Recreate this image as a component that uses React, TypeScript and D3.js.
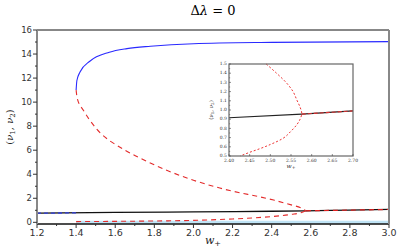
import * as d3 from "d3";

// main plot, values
const xTicks = [1.2, 1.4, 1.6, 1.8, 2.0, 2.2, 2.4, 2.6, 2.8, 3.0];
const yTicks = [0, 2, 4, 6, 8, 10, 12, 14, 16];

const blueUpper: [number, number][] = [
  [1.4, 11.0], [1.404, 11.8], [1.42, 12.5], [1.47, 13.4], [1.57, 14.15],
  [1.66, 14.45], [1.78, 14.65], [2.0, 14.86], [2.4, 14.97], [3.0, 15.03],
];
const redUpper: [number, number][] = [
  [1.4, 11.0], [1.406, 10.3], [1.437, 9.33], [1.488, 8.1], [1.65, 6.0],
  [1.72, 5.4], [2.0, 3.5], [2.135, 2.85], [2.41, 1.85], [2.5, 1.45],
  [2.55, 1.2], [2.575, 0.97],
];
const redLower: [number, number][] = [
  [1.4, 0.06], [1.6, 0.08], [1.8, 0.11], [2.0, 0.16], [2.2, 0.28],
  [2.4, 0.48], [2.5, 0.66], [2.55, 0.8], [2.575, 0.97],
];
const blackLine: [number, number][] = [
  [1.2, 0.76], [1.6, 0.82], [2.0, 0.87], [2.4, 0.92], [2.575, 0.96],
  [2.7, 0.99], [3.0, 1.07],
];
const redOnBlack: [number, number][] = [[2.575, 0.96], [2.7, 0.99], [3.0, 1.07]];
const blueOnBlack: [number, number][] = [[1.2, 0.76], [1.4, 0.785]];
const zeroBand: [number, number][] = [[1.4, 0], [3.0, 0]];

// inset
const insetXTicks = [2.4, 2.45, 2.5, 2.55, 2.6, 2.65, 2.7];
const insetYTicks = [0.5, 0.6, 0.7, 0.8, 0.9, 1.0, 1.1, 1.2, 1.3, 1.4, 1.5];
const insetRed: [number, number][] = [
  [2.49, 1.5], [2.515, 1.4], [2.54, 1.29], [2.555, 1.2], [2.564, 1.11],
  [2.572, 1.03], [2.576, 0.964], [2.572, 0.9], [2.564, 0.84], [2.55, 0.77],
  [2.53, 0.69], [2.5, 0.625], [2.475, 0.58], [2.45, 0.54], [2.427, 0.5],
];
const insetBlack: [number, number][] = [[2.4, 0.916], [2.576, 0.955], [2.7, 0.99]];
const insetRedOnBlack: [number, number][] = [[2.576, 0.955], [2.7, 0.99]];

const W = 401;
const H = 250;
const SANS = "'DejaVu Sans', sans-serif";
const SERIF = "'DejaVu Serif', serif";

export default function App() {
  const x = d3.scaleLinear().domain([1.2, 3.0]).range([37, 389]);
  const y = d3.scaleLinear().domain([-0.14, 16]).range([224, 30]);
  // branches are monotone in w, so no overshoot past the fold at w = 1.4
  const line = d3
    .line<[number, number]>()
    .x((d) => x(d[0]))
    .y((d) => y(d[1]))
    .curve(d3.curveMonotoneX);

  const ix = d3.scaleLinear().domain([2.4, 2.7]).range([229, 353]);
  const iy = d3.scaleLinear().domain([0.5, 1.5]).range([156, 64]);
  const iline = d3
    .line<[number, number]>()
    .x((d) => ix(d[0]))
    .y((d) => iy(d[1]))
    .curve(d3.curveMonotoneY);

  const xMinor = d3.range(1.3, 3.0, 0.2);
  const yMinor = d3.range(1, 16, 2);
  const iyMinor = d3.range(0.55, 1.5, 0.1);

  return (
    <svg
      width={W}
      height={H}
      style={{ position: "absolute", left: 0, top: 0, background: "#fff" }}
    >
      <text x={213} y={15} textAnchor="middle" fontFamily={SERIF} fontSize={13}>
        Δ<tspan fontStyle="italic">λ</tspan> = 0
      </text>

      {/* main curves */}
      <path d={line(zeroBand)!} fill="none" stroke="#bfe3f5" strokeWidth={3} />
      <path d={line(blackLine)!} fill="none" stroke="#111" strokeWidth={1.3} />
      <path d={line(blueOnBlack)!} fill="none" stroke="#3340e0" strokeWidth={1.3} strokeDasharray="4,3" />
      <path d={line(redOnBlack)!} fill="none" stroke="#e02020" strokeWidth={1.2} strokeDasharray="5,4" />
      <path d={line(blueUpper)!} fill="none" stroke="#2a2aff" strokeWidth={1.1} />
      <path d={line(redUpper)!} fill="none" stroke="#e32b2b" strokeWidth={1.1} strokeDasharray="5,4" />
      <path d={line(redLower)!} fill="none" stroke="#e32b2b" strokeWidth={1.1} strokeDasharray="5,4" />

      {/* frame */}
      <line x1={37} x2={389} y1={30} y2={30} stroke="#111" strokeWidth={1} />
      <line x1={37} x2={389} y1={224} y2={224} stroke="#111" strokeWidth={1.3} />
      <line x1={37} x2={37} y1={30} y2={224} stroke="#888" strokeWidth={2} />
      <line x1={389} x2={389} y1={30} y2={224} stroke="#888" strokeWidth={2} />

      {xTicks.map((t) => (
        <g key={"x" + t}>
          <line x1={x(t)} x2={x(t)} y1={224} y2={228} stroke="#333" />
          <text x={x(t)} y={236} textAnchor="middle" fontFamily={SANS} fontSize={9.5} fill="#333">
            {t.toFixed(1)}
          </text>
        </g>
      ))}
      {xMinor.map((t) => (
        <line key={"xm" + t} x1={x(t)} x2={x(t)} y1={224} y2={226} stroke="#333" />
      ))}
      {yTicks.map((t) => (
        <g key={"y" + t}>
          <line x1={33} x2={37} y1={y(t)} y2={y(t)} stroke="#333" />
          <text x={32} y={y(t) + 3} textAnchor="end" fontFamily={SANS} fontSize={8.5} fill="#333">
            {t}
          </text>
        </g>
      ))}
      {yMinor.map((t) => (
        <line key={"ym" + t} x1={35} x2={37} y1={y(t)} y2={y(t)} stroke="#333" />
      ))}

      <text x={213} y={244} textAnchor="middle" fontFamily={SERIF} fontSize={11} fill="#222">
        <tspan fontStyle="italic">w</tspan>
        <tspan fontSize={8} dy={2}>+</tspan>
      </text>
      <text
        transform="translate(13,127) rotate(-90)"
        textAnchor="middle"
        fontFamily={SERIF}
        fontSize={10}
        fill="#222"
      >
        (<tspan fontStyle="italic">ν</tspan>
        <tspan fontSize={7} dy={2}>1</tspan>
        <tspan dy={-2}>, </tspan>
        <tspan fontStyle="italic">ν</tspan>
        <tspan fontSize={7} dy={2}>2</tspan>
        <tspan dy={-2}>)</tspan>
      </text>

      {/* inset */}
      <rect x={229} y={64} width={124} height={92} fill="#fff" stroke="none" />
      <path d={iline(insetBlack)!} fill="none" stroke="#222" strokeWidth={1.2} />
      <path d={iline(insetRedOnBlack)!} fill="none" stroke="#d33" strokeWidth={1.2} strokeDasharray="4,2" />
      <path d={iline(insetRed)!} fill="none" stroke="#e33" strokeWidth={1} strokeDasharray="2,2" />
      <rect x={229} y={64} width={124} height={92} fill="none" stroke="#666" strokeWidth={1.2} />
      {insetXTicks.map((t) => (
        <g key={"ix" + t}>
          <line x1={ix(t)} x2={ix(t)} y1={156} y2={154} stroke="#444" strokeWidth={0.6} />
          <text x={ix(t)} y={162} textAnchor="middle" fontFamily={SERIF} fontSize={4.5} fill="#333">
            {t.toFixed(2)}
          </text>
        </g>
      ))}
      {insetYTicks.map((t) => (
        <g key={"iy" + t}>
          <line x1={229} x2={231} y1={iy(t)} y2={iy(t)} stroke="#444" strokeWidth={0.6} />
          <text x={227} y={iy(t) + 1.2} textAnchor="end" fontFamily={SERIF} fontSize={4.5} fill="#333">
            {t.toFixed(1)}
          </text>
        </g>
      ))}
      {iyMinor.map((t) => (
        <line key={"iym" + t} x1={229} x2={230.2} y1={iy(t)} y2={iy(t)} stroke="#444" strokeWidth={0.5} />
      ))}
      <text x={291} y={168} textAnchor="middle" fontFamily={SERIF} fontSize={6} fill="#333">
        <tspan fontStyle="italic">w</tspan>
        <tspan fontSize={4.5} dy={1}>+</tspan>
      </text>
      <text
        transform="translate(213,110) rotate(-90)"
        textAnchor="middle"
        fontFamily={SERIF}
        fontSize={5.5}
        fill="#333"
      >
        (<tspan fontStyle="italic">ν</tspan>
        <tspan fontSize={4} dy={1}>1</tspan>
        <tspan dy={-1}>, </tspan>
        <tspan fontStyle="italic">ν</tspan>
        <tspan fontSize={4} dy={1}>2</tspan>
        <tspan dy={-1}>)</tspan>
      </text>
    </svg>
  );
}
